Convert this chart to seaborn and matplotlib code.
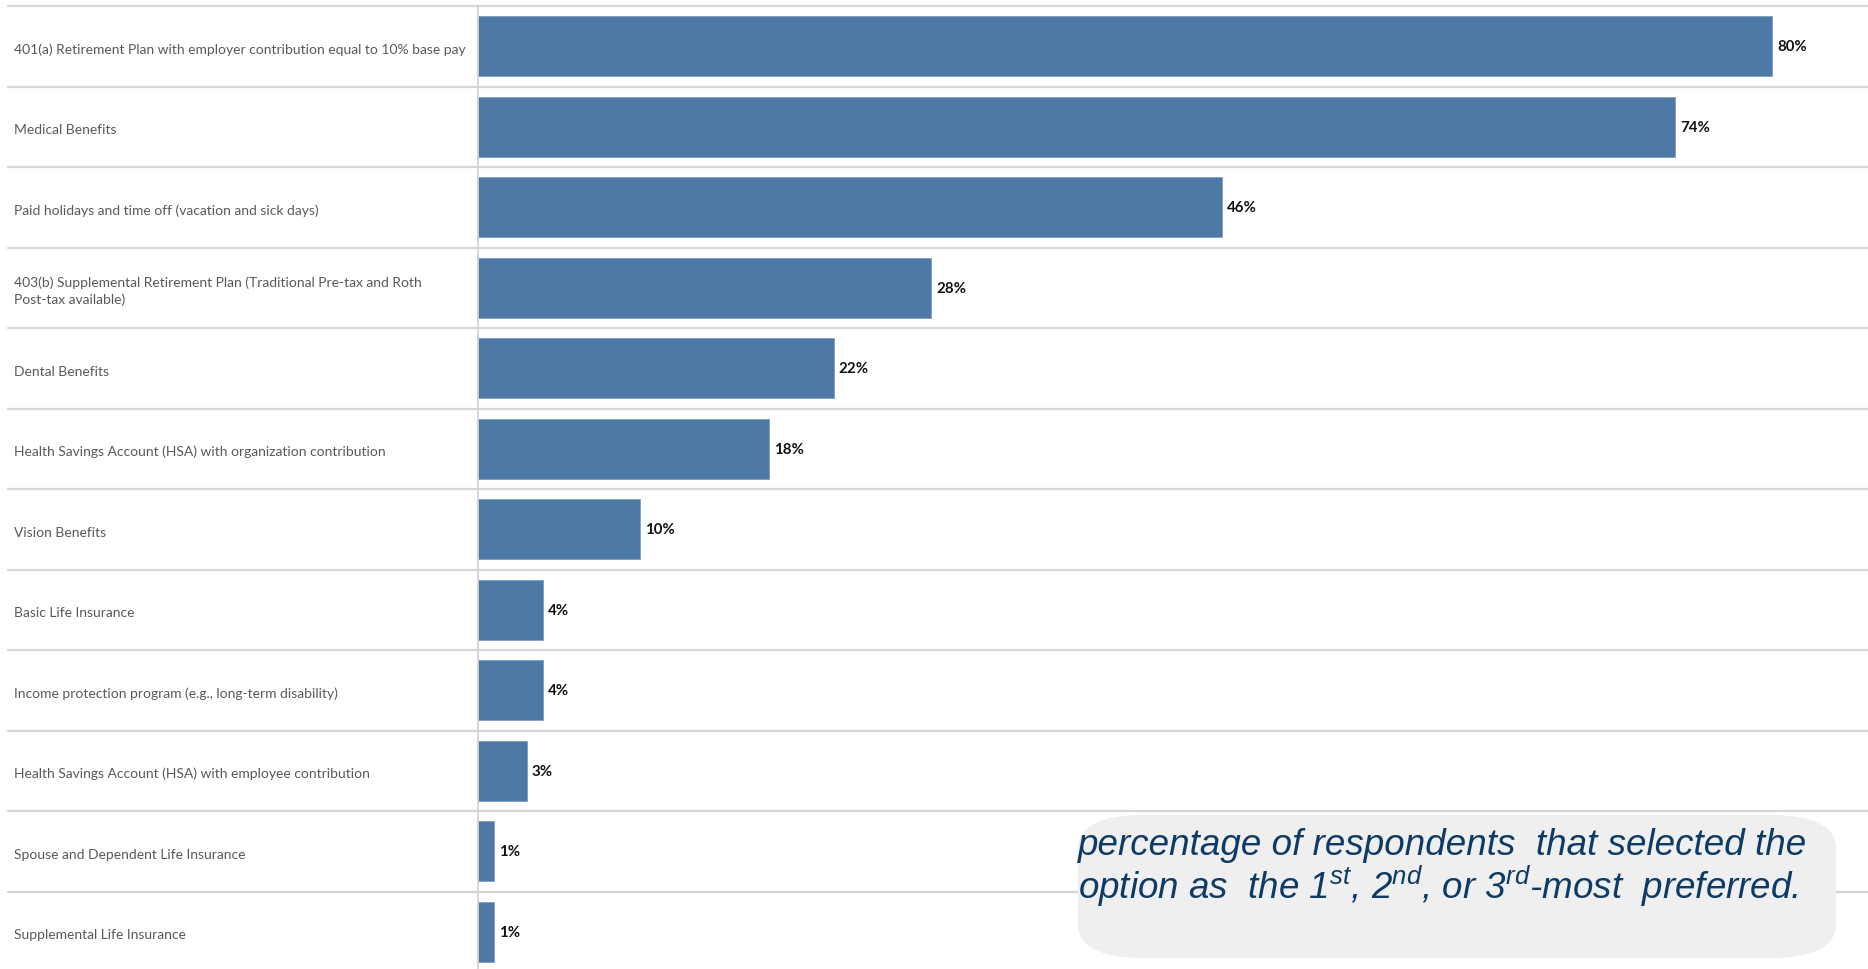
import matplotlib
matplotlib.use("Agg")
import matplotlib.pyplot as plt
import matplotlib.transforms as mtransforms
from matplotlib.patches import FancyBboxPatch
import pandas as pd
import seaborn as sns

# Chart data
categories = [
    "401(a) Retirement Plan with employer contribution equal to 10% base pay",
    "Medical Benefits",
    "Paid holidays and time off (vacation and sick days)",
    "403(b) Supplemental Retirement Plan (Traditional Pre-tax and Roth\nPost-tax available)",
    "Dental Benefits",
    "Health Savings Account (HSA) with organization contribution",
    "Vision Benefits",
    "Basic Life Insurance",
    "Income protection program (e.g., long-term disability)",
    "Health Savings Account (HSA) with employee contribution",
    "Spouse and Dependent Life Insurance",
    "Supplemental Life Insurance",
]
values = [80, 74, 46, 28, 22, 18, 10, 4, 4, 3, 1, 1]
note_line1 = "percentage of respondents  that selected the"
note_line2 = "option as  the 1$^{st}$, 2$^{nd}$, or 3$^{rd}$-most  preferred."

df = pd.DataFrame({"option": categories, "pct": values})

sns.set_style("white")
plt.rcParams["font.family"] = ["Lato", "DejaVu Sans"]
plt.rcParams["mathtext.fontset"] = "custom"
plt.rcParams["mathtext.it"] = "Liberation Sans:italic"
plt.rcParams["mathtext.rm"] = "Liberation Sans:italic"

W, H = 1868, 970
fig = plt.figure(figsize=(W / 100, H / 100), dpi=100)
ax_left, ax_top, row_h = 478, 7, 80.5
ax_h = row_h * len(categories)
ax = fig.add_axes([ax_left / W, (H - ax_top - ax_h) / H, (W - ax_left) / W, ax_h / H])

sns.barplot(data=df, y="option", x="pct", orient="h", color="#4E78A6",
            width=0.75, saturation=1, edgecolor="#7F9DC0", linewidth=0.6, ax=ax)

px_per_pct = 16.18
ax.set_xlim(0, (W - ax_left) / px_per_pct)
ax.set_ylim(len(categories) - 0.5, -0.5)
ax.set_xlabel("")
ax.set_ylabel("")
ax.set_xticks([])
ax.set_yticks([])
for s in ["top", "right", "bottom"]:
    ax.spines[s].set_visible(False)
ax.spines["left"].set_color("#D0D0D0")
ax.spines["left"].set_linewidth(1.2)

# row separators running across the label area
xmin = -(ax_left - 8) / (W - ax_left)
for i in range(len(categories)):
    ax.axhline(i - 0.5, xmin=xmin, xmax=1, color="#D6D6D6", lw=1.6,
               clip_on=False, zorder=0)

# category labels
trans = mtransforms.blended_transform_factory(fig.transFigure, ax.transData)
for i, lab in enumerate(categories):
    ax.text(14 / W, i + 0.03, lab, transform=trans, ha="left", va="center",
            fontsize=10.0, color="#595959", linespacing=1.35)

# value labels
for i, v in enumerate(values):
    ax.text(v + 0.3, i, f"{v}%", ha="left", va="center", fontsize=10.8,
            fontweight="bold", color="#111111")

# note box
box = FancyBboxPatch((1078 / W, 11 / H), 758 / W, 143 / H,
                     boxstyle="round,pad=0,rounding_size=0.035",
                     transform=fig.transFigure, facecolor="#EFEFEF",
                     edgecolor="none", zorder=5)
fig.patches.append(box)
note_font = ["Liberation Sans", "DejaVu Sans"]
fig.text(1078 / W, (H - 855) / H, note_line1, ha="left", va="baseline",
         fontsize=26.5, style="italic", color="#0D3B66", family=note_font, zorder=6)
fig.text(1078 / W, (H - 899) / H, note_line2, ha="left", va="baseline",
         fontsize=26.5, style="italic", color="#0D3B66", family=note_font, zorder=6)

fig.savefig("out.png", dpi=100)
